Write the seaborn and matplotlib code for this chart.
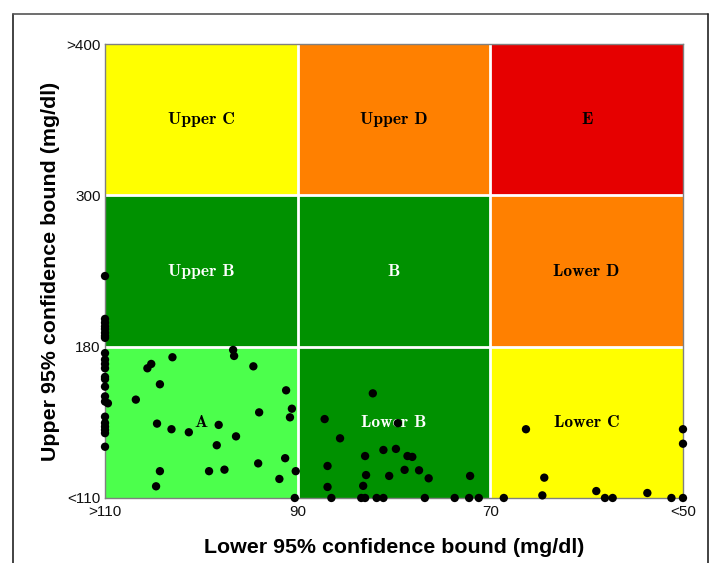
import numpy as np
import pandas as pd
import seaborn as sns
import matplotlib
matplotlib.use("Agg")
import matplotlib.pyplot as plt
from matplotlib.lines import Line2D

# zone edges (mg/dl) and tick labels
x_edges = [110, 90, 70, 50]
x_ticklabels = [">110", "90", "70", "<50"]
y_edges = [110, 180, 300, 400]
y_ticklabels = ["<110", "180", "300", ">400"]

# zones, rows from bottom to top, columns from left (>110) to right (<50)
zone_names = [["A", "Lower B", "Lower C"],
              ["Upper B", "B", "Lower D"],
              ["Upper C", "Upper D", "E"]]
zone_colors = [["#4cff4c", "#009100", "#ffff00"],
               ["#009100", "#009100", "#ff8000"],
               ["#ffff00", "#ff8000", "#e60000"]]
zone_text = [["black", "white", "black"],
             ["white", "white", "black"],
             ["black", "black", "black"]]

# lower / upper 95% confidence bounds per subject
lower_bound = [110, 110, 110, 110, 110, 110, 110, 110, 110, 110, 110, 110,
               110, 110, 110, 110, 110, 109.7, 110, 110, 110, 110, 110, 110,
               105.2, 105.6, 103.0, 96.7, 96.6, 94.6, 104.3, 106.8, 91.2, 90.6,
               90.8, 94.0, 104.6, 103.1, 101.3, 98.2, 96.4, 98.4, 104.3, 99.2,
               97.6, 94.1, 91.3, 90.2, 91.9, 104.7, 90.3,
               82.2, 87.2, 79.6, 85.6, 81.1, 79.8, 83.0, 78.6, 78.1, 86.9,
               78.9, 77.4, 82.9, 80.5, 76.4, 72.1, 86.9, 83.2,
               86.5, 83.4, 83.0, 81.8, 81.1, 76.8, 73.7, 72.2, 71.2,
               66.3, 50, 50, 64.4, 64.6, 59.0, 53.7, 68.6, 58.1, 57.3, 51.2, 50]
upper_bound = [236, 202, 199, 196, 194, 191, 188.5, 187, 177, 174, 172, 170,
               166, 165, 161.5, 157, 154.6, 153.8, 147.6, 144.7, 143, 141.5, 140, 133.7,
               172, 170, 175.1, 178.5, 175.7, 170.9, 162.6, 155.5, 159.8, 151.3,
               147.3, 149.6, 144.4, 141.8, 140.4, 143.8, 138.5, 134.4, 122.4, 122.4,
               123.1, 126, 128.4, 122.4, 118.8, 115.4, 110,
               158.4, 146.5, 144.6, 137.6, 132.2, 132.7, 129.4, 129.4, 129, 124.8,
               123, 122.8, 120.6, 120.2, 119.1, 120.2, 115.1, 115.6,
               110, 110, 110, 110, 110, 110, 110, 110, 110,
               141.8, 141.8, 135.1, 119.4, 111.2, 113.2, 112.3, 110, 110, 110, 110, 110]

df = pd.DataFrame({"lower": lower_bound, "upper": upper_bound})

sns.set_style("white")
plt.rcParams["font.family"] = ["Liberation Sans", "DejaVu Sans"]

# piecewise scales: every zone band gets the same width on the plot
xf = (lambda v: np.interp(v, x_edges[::-1], [3, 2, 1, 0]),
      lambda u: np.interp(u, [0, 1, 2, 3], x_edges))
yf = (lambda v: np.interp(v, y_edges, [0, 1, 2, 3]),
      lambda u: np.interp(u, [0, 1, 2, 3], y_edges))

fig = plt.figure(figsize=(7.11, 5.63), dpi=100)
ax = fig.add_axes([0.1477, 0.1155, 0.8129, 0.8063])
ax.set_xscale("function", functions=xf)
ax.set_yscale("function", functions=yf)
ax.set_xlim(50, 110)
ax.set_ylim(110, 400)

for r in range(3):
    for c in range(3):
        ax.fill_between([x_edges[c], x_edges[c + 1]], y_edges[r], y_edges[r + 1],
                        color=zone_colors[r][c], lw=0, zorder=0)
        xc = (x_edges[c] + x_edges[c + 1]) / 2
        yc = (y_edges[r] + y_edges[r + 1]) / 2
        ax.text(xc, yc, zone_names[r][c], ha="center", va="center",
                fontsize=12.5, family="cmb10", color=zone_text[r][c], zorder=2)

for xv in x_edges[1:-1]:
    ax.axvline(xv, color="white", lw=2, zorder=1)
for yv in y_edges[1:-1]:
    ax.axhline(yv, color="white", lw=2, zorder=1)

sns.scatterplot(data=df, x="lower", y="upper", color="black", s=36,
                edgecolor="none", clip_on=False, zorder=5, ax=ax)

ax.set_xticks(x_edges)
ax.set_xticklabels(x_ticklabels)
ax.set_yticks(y_edges)
ax.set_yticklabels(y_ticklabels)
ax.minorticks_off()
ax.tick_params(direction="in", length=4, color="#808080", labelsize=11,
               labelcolor="#111111")
ax.tick_params(axis="x", pad=5)
ax.tick_params(axis="y", pad=3)
for s in ax.spines.values():
    s.set_color("#808080")
    s.set_linewidth(1)

ax.set_xlabel("Lower 95% confidence bound (mg/dl)", fontsize=15.4,
              fontweight="bold", labelpad=14, color="black")
ax.set_ylabel("Upper 95% confidence bound (mg/dl)", fontsize=15.4,
              fontweight="bold", labelpad=5, color="black")

# outer frame (cropped at the bottom)
fl, fr, ft = 13 / 711, 708 / 711, 1 - 14 / 563
fig.add_artist(Line2D([fl, fl], [0, ft], transform=fig.transFigure, color="#222222", lw=1.2))
fig.add_artist(Line2D([fl, fr], [ft, ft], transform=fig.transFigure, color="#555555", lw=1.2))
fig.add_artist(Line2D([fr, fr], [0, ft], transform=fig.transFigure, color="#222222", lw=1.2))

fig.savefig("out.png", dpi=100)
